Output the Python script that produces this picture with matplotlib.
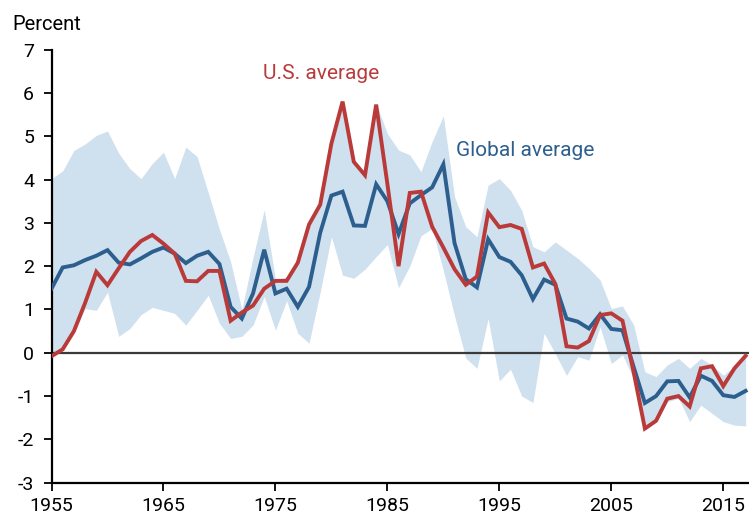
import matplotlib
matplotlib.use("Agg")
import matplotlib.pyplot as plt

plt.rcParams['font.family'] = ['Roboto', 'DejaVu Sans']

years = list(range(1955, 2018))

us_avg = [-0.08, 0.08, 0.5, 1.15, 1.87, 1.56, 1.95, 2.33, 2.58, 2.72, 2.52, 2.29, 1.66, 1.65, 1.89, 1.89,
          0.74, 0.93, 1.09, 1.48, 1.66, 1.66, 2.08, 2.96, 3.42, 4.83, 5.8, 4.41, 4.1, 5.73, 3.9,
          2.0, 3.69, 3.72, 2.91, 2.43, 1.93, 1.57, 1.76, 3.24, 2.9, 2.95, 2.86, 1.97, 2.06, 1.59,
          0.15, 0.12, 0.27, 0.87, 0.91, 0.74, -0.45, -1.75, -1.57, -1.06, -1.0, -1.24, -0.36, -0.31, -0.77, -0.36, -0.07]

global_avg = [1.48, 1.97, 2.02, 2.14, 2.24, 2.37, 2.08, 2.04, 2.18, 2.33, 2.43, 2.29, 2.07, 2.24, 2.33, 2.05,
              1.06, 0.79, 1.37, 2.38, 1.37, 1.48, 1.06, 1.52, 2.77, 3.63, 3.72, 2.94, 2.93, 3.89, 3.5,
              2.74, 3.45, 3.64, 3.82, 4.35, 2.53, 1.7, 1.51, 2.62, 2.21, 2.1, 1.79, 1.24, 1.69, 1.57,
              0.79, 0.72, 0.56, 0.89, 0.55, 0.52, -0.33, -1.16, -1.0, -0.66, -0.65, -1.03, -0.53, -0.65, -0.98, -1.02, -0.88]

range_high = [4.02, 4.2, 4.67, 4.82, 5.02, 5.12, 4.61, 4.25, 4.02, 4.37, 4.63, 4.02, 4.75, 4.53, 3.7, 2.85,
              2.1, 1.0, 2.2, 3.3, 1.7, 1.75, 2.12, 2.98, 3.45, 4.85, 5.82, 4.45, 4.14, 5.75, 5.06,
              4.68, 4.57, 4.18, 4.88, 5.47, 3.6, 2.91, 2.68, 3.87, 4.02, 3.75, 3.29, 2.45, 2.33, 2.56,
              2.37, 2.18, 1.95, 1.68, 1.02, 1.08, 0.64, -0.44, -0.55, -0.28, -0.13, -0.36, -0.13, -0.28, -0.52, -0.3, -0.05]

range_low = [-0.1, 0.05, 0.45, 1.02, 0.98, 1.4, 0.38, 0.56, 0.88, 1.05, 0.98, 0.91, 0.64, 0.98, 1.33, 0.68,
             0.33, 0.38, 0.64, 1.3, 0.52, 1.2, 0.45, 0.22, 1.4, 2.68, 1.79, 1.72, 1.93, 2.22, 2.5,
             1.5, 2.0, 2.7, 2.87, 1.9, 0.85, -0.12, -0.36, 0.79, -0.65, -0.38, -1.0, -1.15, 0.45, -0.02,
             -0.52, -0.09, -0.17, 0.6, -0.25, -0.05, -0.6, -1.78, -1.6, -1.13, -1.05, -1.59, -1.21, -1.4, -1.59, -1.67, -1.69]

x_ticks = [1955, 1965, 1975, 1985, 1995, 2005, 2015]
y_ticks = [-3, -2, -1, 0, 1, 2, 3, 4, 5, 6, 7]

BLUE = '#2D5F8E'
RED = '#BA3A3A'
BAND = '#CFE0EF'

fig = plt.figure(figsize=(7.49, 5.18), dpi=100)
ax = fig.add_axes([51.5 / 749, (518 - 482.7) / 518, 1 - 51.5 / 749, (482.7 - 49.6) / 518])

ax.fill_between(years, range_low, range_high, color=BAND, linewidth=0, zorder=1)
ax.axhline(0, color='#3a3a3a', linewidth=1.6, zorder=2)
ax.plot(years, global_avg, color=BLUE, linewidth=2.8, zorder=3, solid_joinstyle='miter')
ax.plot(years, us_avg, color=RED, linewidth=2.8, zorder=4, solid_joinstyle='miter')

ax.set_xlim(1955, 2017.3)
ax.set_ylim(-3, 7)
ax.set_xticks(x_ticks)
ax.set_yticks(y_ticks)
ax.set_yticklabels([str(v) for v in y_ticks])

for s in ['top', 'right']:
    ax.spines[s].set_visible(False)
for s in ['left', 'bottom']:
    ax.spines[s].set_linewidth(1.6)
    ax.spines[s].set_color('black')

ax.tick_params(axis='both', direction='out', length=5.5, width=1.3, labelsize=14, colors='black')
ax.tick_params(axis='y', pad=7)
ax.tick_params(axis='x', pad=5)

ax.text(1979.1, 6.45, 'U.S. average', color=RED, fontsize=15, ha='center', va='center')
ax.text(1997.3, 4.67, 'Global average', color=BLUE, fontsize=15, ha='center', va='center')

fig.text(12.7 / 749, (518 - 30) / 518, 'Percent', fontsize=14.5, ha='left', va='baseline')

fig.savefig('out.png', dpi=100)
